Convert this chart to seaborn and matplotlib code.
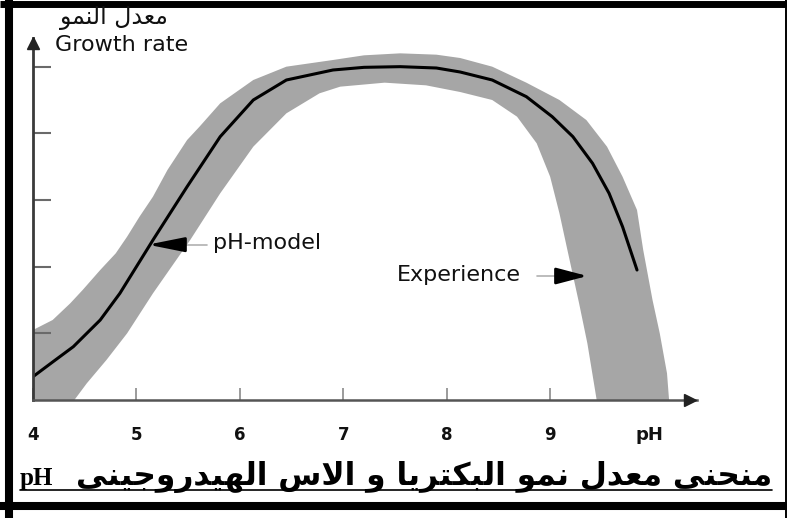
import matplotlib
matplotlib.use('Agg')  # no display
import matplotlib.pyplot as plt
from matplotlib.lines import Line2D
import seaborn as sns

# --- Data (pH vs growth rate, arbitrary units) ---
MODEL_PH = [4.0, 4.19, 4.39, 4.52, 4.65, 4.84, 5.16, 5.49, 5.81, 6.13, 6.45, 6.9,
            7.2, 7.55, 7.9, 8.13, 8.44, 8.77, 9.02, 9.22, 9.41, 9.57, 9.70, 9.84]
MODEL_RATE = [0.35, 0.57, 0.80, 1.0, 1.2, 1.6, 2.4, 3.2, 3.95, 4.5, 4.8, 4.95,
              4.99, 5.0, 4.98, 4.92, 4.8, 4.55, 4.25, 3.95, 3.55, 3.1, 2.6, 1.95]

# grey "Experience" band: upper and lower edges
BAND_UP_PH = [4.0, 4.19, 4.36, 4.48, 4.65, 4.8, 4.91, 5.03, 5.16, 5.3, 5.49, 5.61,
              5.81, 6.13, 6.45, 6.9, 7.2, 7.55, 7.9, 8.13, 8.44, 8.77, 9.09, 9.35,
              9.55, 9.70, 9.84, 9.9, 9.99, 10.06, 10.13, 10.15]
BAND_UP = [1.05, 1.2, 1.45, 1.65, 1.95, 2.2, 2.45, 2.75, 3.05, 3.45, 3.9, 4.1,
           4.45, 4.8, 5.0, 5.1, 5.17, 5.2, 5.18, 5.13, 5.0, 4.76, 4.5, 4.2,
           3.8, 3.35, 2.85, 2.25, 1.5, 1.0, 0.4, 0.0]
BAND_LO_PH = [4.0, 4.4, 4.52, 4.71, 4.91, 5.16, 5.52, 5.81, 6.13, 6.45, 6.77, 6.97,
              7.4, 7.8, 8.13, 8.44, 8.68, 8.87, 9.0, 9.09, 9.16, 9.28, 9.36, 9.45]
BAND_LO = [0.0, 0.0, 0.25, 0.6, 1.0, 1.6, 2.4, 3.1, 3.8, 4.3, 4.6, 4.7,
           4.76, 4.72, 4.62, 4.5, 4.25, 3.85, 3.35, 2.8, 2.3, 1.45, 0.85, 0.0]

X_TICKS = [4, 5, 6, 7, 8, 9]
X_LABELS = ['4', '5', '6', '7', '8', '9']
Y_TICKS = [1, 2, 3, 4, 5]

TITLE_AR = 'منحنى معدل نمو البكتريا و الاس الهيدروجينى'
YLABEL_AR = 'معدل النمو'

# --- Arabic shaping (matplotlib has no bidi / joining support) ---
ARABIC_FORMS = {
    # letter: (isolated, final, initial, medial)
    'ا': ('\uFE8D', '\uFE8E', None, None),
    'ب': ('\uFE8F', '\uFE90', '\uFE91', '\uFE92'),
    'ت': ('\uFE95', '\uFE96', '\uFE97', '\uFE98'),
    'ج': ('\uFE9D', '\uFE9E', '\uFE9F', '\uFEA0'),
    'ح': ('\uFEA1', '\uFEA2', '\uFEA3', '\uFEA4'),
    'د': ('\uFEA9', '\uFEAA', None, None),
    'ر': ('\uFEAD', '\uFEAE', None, None),
    'س': ('\uFEB1', '\uFEB2', '\uFEB3', '\uFEB4'),
    'ع': ('\uFEC9', '\uFECA', '\uFECB', '\uFECC'),
    'ك': ('\uFED9', '\uFEDA', '\uFEDB', '\uFEDC'),
    'ل': ('\uFEDD', '\uFEDE', '\uFEDF', '\uFEE0'),
    'م': ('\uFEE1', '\uFEE2', '\uFEE3', '\uFEE4'),
    'ن': ('\uFEE5', '\uFEE6', '\uFEE7', '\uFEE8'),
    'ه': ('\uFEE9', '\uFEEA', '\uFEEB', '\uFEEC'),
    'و': ('\uFEED', '\uFEEE', None, None),
    'ى': ('\uFEEF', '\uFEF0', None, None),
    'ي': ('\uFEF1', '\uFEF2', '\uFEF3', '\uFEF4'),
}
LAM_ALEF = ('\uFEFB', '\uFEFC')


def shape_arabic(text):
    """Return Arabic text as joined presentation forms in visual (right-to-left) order."""
    chars = []
    i = 0
    while i < len(text):
        if text[i] == 'ل' and i + 1 < len(text) and text[i + 1] == 'ا':
            chars.append('LA')
            i += 2
        else:
            chars.append(text[i])
            i += 1

    def joins_forward(c):
        return c in ARABIC_FORMS and ARABIC_FORMS[c][2] is not None

    out = []
    for k, c in enumerate(chars):
        prev = chars[k - 1] if k > 0 else None
        nxt = chars[k + 1] if k + 1 < len(chars) else None
        link_prev = prev is not None and joins_forward(prev)
        if c == 'LA':
            out.append(LAM_ALEF[1] if link_prev else LAM_ALEF[0])
            continue
        if c not in ARABIC_FORMS:
            out.append(c)
            continue
        iso, fin, ini, med = ARABIC_FORMS[c]
        link_next = ini is not None and nxt is not None and (nxt in ARABIC_FORMS or nxt == 'LA')
        if link_prev and link_next:
            out.append(med)
        elif link_prev:
            out.append(fin)
        elif link_next:
            out.append(ini)
        else:
            out.append(iso)
    return ''.join(reversed(out))


# --- Figure ---
sns.set_style('white')
plt.rcParams['font.family'] = ['DejaVu Sans']

W, H = 787, 518
fig = plt.figure(figsize=(W / 100, H / 100), dpi=100)
ax = fig.add_axes([33 / W, 118 / H, 664 / W, 362 / H])
ax.set_xlim(4, 10.42)
ax.set_ylim(0, 5.43)

# grey band
band_x = BAND_UP_PH + BAND_LO_PH[::-1]
band_y = BAND_UP + BAND_LO[::-1]
ax.fill(band_x, band_y, color='#a6a6a6', lw=0, zorder=1)

# model curve
sns.lineplot(x=MODEL_PH, y=MODEL_RATE, color='black', linewidth=2.2, ax=ax, zorder=3)

# axes styling
sns.despine(ax=ax)
ax.set_axisbelow(False)
ax.spines['left'].set_color('#3a3a3a')
ax.spines['left'].set_linewidth(2)
ax.spines['bottom'].set_color('#555555')
ax.spines['bottom'].set_linewidth(1.8)
ax.spines['left'].set_zorder(4)
ax.spines['bottom'].set_zorder(4)

ax.set_xticks(X_TICKS + [9.96])
ax.set_xticklabels(X_LABELS + ['pH'], fontsize=12, fontweight='bold', color='#111111')
ax.tick_params(axis='x', bottom=True, direction='in', length=9, width=1.2, color='#8a8a8a', pad=19)
ax.xaxis.get_major_ticks()[-1].tick1line.set_visible(False)
ax.get_xticklabels()[-1].set_fontsize(13)
ax.set_yticks(Y_TICKS)
ax.set_yticklabels([])
ax.tick_params(axis='y', left=True, direction='in', length=13, width=1.5, color='#6a6a6a')
ax.set_xlabel('')
ax.set_ylabel('')

# axis arrowheads
ax.plot([0], [0.985], marker='^', markersize=8, color='#222222', transform=ax.transAxes, clip_on=False, zorder=5)
ax.plot([0.99], [0], marker='>', markersize=8, color='#222222', transform=ax.transAxes, clip_on=False, zorder=5)

# labels
ax.text(4.21, 5.33, 'Growth rate', fontsize=16, ha='left', va='center', color='#111111')
ax.text(5.74, 2.36, 'pH-model', fontsize=16, ha='left', va='center', color='#111111')
ax.text(7.52, 1.88, 'Experience', fontsize=16, ha='left', va='center', color='#111111')

# annotation arrows: light tail + black head
ax.plot([5.44, 5.68], [2.33, 2.33], color='#b0b0b0', lw=1.2, zorder=4)
ax.annotate('', xy=(5.11, 2.33), xytext=(5.46, 2.33),
            arrowprops=dict(arrowstyle='-|>,head_length=1.1,head_width=0.22', color='black',
                            lw=2, mutation_scale=20, shrinkA=0, shrinkB=0), zorder=5)
ax.plot([8.87, 9.11], [1.86, 1.86], color='#b0b0b0', lw=1.2, zorder=4)
ax.annotate('', xy=(9.36, 1.86), xytext=(9.09, 1.86),
            arrowprops=dict(arrowstyle='-|>,head_length=0.95,head_width=0.25', color='black',
                            lw=2, mutation_scale=20, shrinkA=0, shrinkB=0), zorder=5)

# Arabic y label at the top
fig.text(114 / W, 1 - 24 / H, shape_arabic(YLABEL_AR), fontsize=17, ha='center', va='baseline',
         color='#111111', family=['DejaVu Sans'])

# underlined bold caption: "pH" on the left, Arabic running to the right edge
fig.text(20 / W, 1 - 485 / H, 'pH', fontsize=18, fontweight='bold', ha='left', va='baseline',
         color='black', family=['Liberation Serif'])
fig.text(772 / W, 1 - 485 / H, shape_arabic(TITLE_AR), fontsize=22.5, fontweight='bold',
         ha='right', va='baseline', color='black', family=['DejaVu Sans'])
fig.add_artist(Line2D([20 / W, 772 / W], [1 - 490 / H] * 2, color='black', lw=1.2,
                      transform=fig.transFigure))

# black frame around the picture
frame = dict(color='black', transform=fig.transFigure, solid_capstyle='butt')
fig.add_artist(Line2D([9 / W, 9 / W], [0, 1], lw=5.8, **frame))
fig.add_artist(Line2D([0, 1], [1 - 3.5 / H, 1 - 3.5 / H], lw=5, **frame))
fig.add_artist(Line2D([0, 1], [12 / H, 12 / H], lw=5.8, **frame))
fig.add_artist(Line2D([786 / W, 786 / W], [0, 1], lw=1.4, **frame))

fig.savefig('out.png', dpi=100)
